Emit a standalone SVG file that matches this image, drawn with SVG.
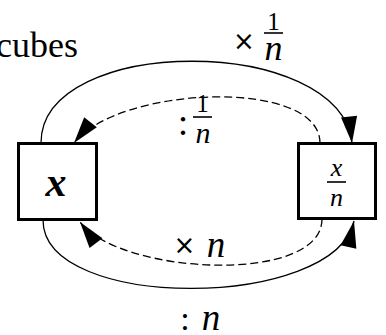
<svg xmlns="http://www.w3.org/2000/svg" width="386" height="335" viewBox="0 0 386 335">
<style>
.box{fill:#fff;stroke:#000;stroke-width:3}
.ln{fill:none;stroke:#000;stroke-width:1.3}
.dash{stroke-dasharray:8 4}
.t{font-family:"Liberation Serif",serif;fill:#000}
.i{font-style:italic}
.s{font-family:"DejaVu Sans",sans-serif;fill:#000}
.bar{stroke:#000;stroke-width:1.6}
</style>
<defs>
<marker id="ah" markerUnits="userSpaceOnUse" markerWidth="30" markerHeight="20" viewBox="-24 -8 26 16" refX="0" refY="0" orient="auto">
<path d="M0,0 L-23,-7 L-23,7 Z" fill="#000"/>
</marker>
</defs>
<text class="t" x="78" y="57" font-size="36" text-anchor="end">cubes</text>
<g id="connectors">
<path class="ln" d="M41,143 C41,34 340,34 352,143" marker-end="url(#ah)"/>
<path class="ln dash" d="M320,143 C320,78 120,85 74,143" marker-end="url(#ah)"/>
<path class="ln dash" d="M322,219 C322,285 120,275 80,222" marker-end="url(#ah)"/>
<path class="ln" d="M43,220 C43,312 335,310 354,221" marker-end="url(#ah)"/>
</g>
<g id="node-x">
<rect class="box" x="18.5" y="143.5" width="78" height="76"/>
<text class="t i" x="56" y="196" font-size="42" font-weight="bold" text-anchor="middle">x</text>
</g>
<g id="node-xn">
<rect class="box" x="298.5" y="143.5" width="77" height="75"/>
<text class="t i" x="336.5" y="176" font-size="26" text-anchor="middle">x</text>
<line class="bar" x1="327" y1="182" x2="346" y2="182"/>
<text class="t i" x="336.5" y="206" font-size="26" text-anchor="middle">n</text>
</g>
<g id="labels">
<text class="s" x="244" y="50" font-size="26" text-anchor="middle">×</text>
<text class="t" x="273.5" y="29.5" font-size="25" text-anchor="middle">1</text>
<line class="bar" x1="264" y1="33" x2="283" y2="33"/>
<text class="t i" x="273.5" y="60" font-size="36" text-anchor="middle">n</text>

<text class="t" x="183" y="135" font-size="38" text-anchor="middle">:</text>
<text class="t" x="202.5" y="112" font-size="25" text-anchor="middle">1</text>
<line class="bar" x1="193" y1="117" x2="212" y2="117"/>
<text class="t i" x="203" y="143" font-size="30" text-anchor="middle">n</text>

<text class="s" x="184.5" y="254" font-size="26" text-anchor="middle">×</text>
<text class="t i" x="216" y="257" font-size="37" text-anchor="middle">n</text>

<text class="t" x="185" y="330" font-size="34" text-anchor="middle">:</text>
<text class="t i" x="211" y="330" font-size="37" text-anchor="middle">n</text>
</g>
</svg>
